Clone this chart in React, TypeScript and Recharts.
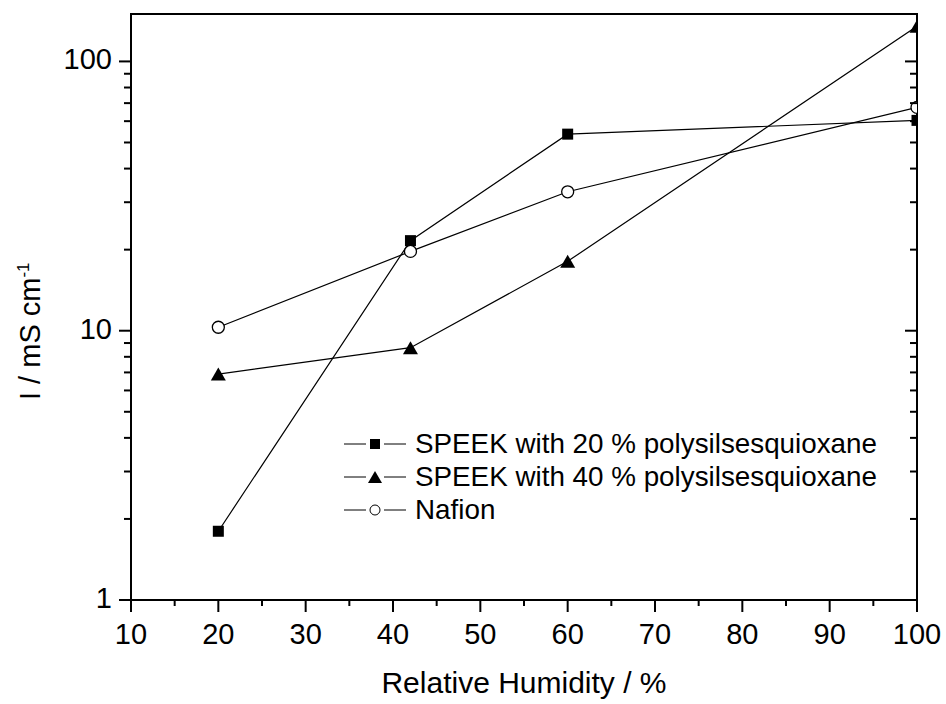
import React from 'react';
import { LineChart, Line, XAxis, YAxis, Legend, Label } from 'recharts';

// Values
const humidity = [20, 42, 60, 100];
const speek20 = [1.8, 21.6, 53.7, 60.4];
const speek40 = [6.9, 8.65, 18.1, 135];
const nafion = [10.3, 19.7, 32.8, 67.5];

const xTicks = [10, 15, 20, 25, 30, 35, 40, 45, 50, 55, 60, 65, 70, 75, 80, 85, 90, 95, 100];
const yTicks = [1, 2, 3, 4, 5, 6, 7, 8, 9, 10, 20, 30, 40, 50, 60, 70, 80, 90, 100];

const seriesNames = [
  'SPEEK with 20 % polysilsesquioxane',
  'SPEEK with 40 % polysilsesquioxane',
  'Nafion',
];

const FONT = '"Liberation Sans", Arial, sans-serif';

const chartData = humidity.map((rh, i) => ({
  rh,
  speek20: speek20[i],
  speek40: speek40[i],
  nafion: nafion[i],
}));

const isMajorY = (v: number) => Math.abs(Math.log10(v) - Math.round(Math.log10(v))) < 1e-9;

// tick renderers (draw tick line + label ourselves so minor ticks work)
const BottomTick = (props: any) => {
  const { x, y, payload } = props;
  const major = payload.value % 10 === 0;
  return (
    <g>
      <line x1={x} y1={y} x2={x} y2={y + (major ? 12 : 6)} stroke="#000" strokeWidth={2} />
      {major && (
        <text x={x} y={y + 44} textAnchor="middle" fontSize={29} fill="#000" fontFamily={FONT}>
          {payload.value}
        </text>
      )}
    </g>
  );
};

const TopTick = (props: any) => {
  const { x, y, payload } = props;
  const major = payload.value % 10 === 0;
  return <line x1={x} y1={y} x2={x} y2={y + (major ? 12 : 6)} stroke="#000" strokeWidth={2} />;
};

const LeftTick = (props: any) => {
  const { x, y, payload } = props;
  const major = isMajorY(payload.value);
  return (
    <g>
      <line x1={x} y1={y} x2={x - (major ? 12 : 7)} y2={y} stroke="#000" strokeWidth={2} />
      {major && (
        <text x={x - 19} y={y + 8} textAnchor="end" fontSize={29} fill="#000" fontFamily={FONT}>
          {payload.value}
        </text>
      )}
    </g>
  );
};

const RightTick = (props: any) => {
  const { x, y, payload } = props;
  const major = isMajorY(payload.value);
  return <line x1={x} y1={y} x2={x - (major ? 12 : 7)} y2={y} stroke="#000" strokeWidth={2} />;
};

// markers
const SquareDot = (p: any) => (
  <rect key={`sq${p.index}`} x={p.cx - 5.5} y={p.cy - 5.5} width={11} height={11} fill="#000" />
);
const TriangleDot = (p: any) => (
  <path
    key={`tr${p.index}`}
    d={`M${p.cx},${p.cy - 6.5} L${p.cx + 7.5},${p.cy + 6.5} L${p.cx - 7.5},${p.cy + 6.5} Z`}
    fill="#000"
  />
);
const CircleDot = (p: any) => (
  <circle key={`ci${p.index}`} cx={p.cx} cy={p.cy} r={6} fill="#fff" stroke="#000" strokeWidth={1.3} />
);

const YTitle = (props: any) => {
  const vb = props.viewBox;
  const tx = vb.x + 40;
  const ty = vb.y + vb.height / 2 + 93;
  return (
    <text transform={`translate(${tx}, ${ty}) rotate(-90)`} fontSize={29} fill="#000" fontFamily={FONT}>
      I / mS cm
      <tspan fontSize={17} dy={-11}>
        -1
      </tspan>
    </text>
  );
};

const LegendIcon = ({ kind }: { kind: number }) => (
  <svg width={62} height={20} style={{ display: 'block' }}>
    <line x1={0} y1={10} x2={22} y2={10} stroke="#000" strokeWidth={1} />
    <line x1={40} y1={10} x2={62} y2={10} stroke="#000" strokeWidth={1} />
    {kind === 0 && <rect x={26} y={5} width={10} height={10} fill="#000" />}
    {kind === 1 && <path d="M31,4 L38,16 L24,16 Z" fill="#000" />}
    {kind === 2 && <circle cx={31} cy={10} r={5} fill="#fff" stroke="#000" strokeWidth={1} />}
  </svg>
);

const LegendBox = () => (
  <div style={{ fontFamily: FONT, fontSize: 27.8, color: '#000' }}>
    {seriesNames.map((name, i) => (
      <div key={name} style={{ display: 'flex', alignItems: 'center', height: 33 }}>
        <LegendIcon kind={i} />
        <span style={{ marginLeft: 9, whiteSpace: 'nowrap', lineHeight: '33px' }}>{name}</span>
      </div>
    ))}
  </div>
);

const App: React.FC = () => {
  return (
    <div style={{ position: 'absolute', left: 0, top: 0, width: 946, height: 704, background: '#fff' }}>
      <LineChart
        width={946}
        height={704}
        data={chartData}
        margin={{ top: 13, right: 28, bottom: 0, left: 0 }}
        style={{ fontFamily: FONT }}
      >
        <XAxis
          dataKey="rh"
          type="number"
          domain={[10, 100]}
          ticks={xTicks}
          interval={0}
          allowDataOverflow
          height={104}
          tickSize={0}
          tickMargin={0}
          tickLine={false}
          tick={BottomTick}
          axisLine={{ stroke: '#000', strokeWidth: 2, strokeLinecap: 'square' }}
        >
          <Label
            value="Relative Humidity / %"
            position="insideBottom"
            offset={11}
            fontSize={30}
            fill="#000"
            fontFamily={FONT}
          />
        </XAxis>
        <XAxis
          xAxisId="top"
          orientation="top"
          type="number"
          domain={[10, 100]}
          ticks={xTicks}
          interval={0}
          allowDataOverflow
          height={1}
          tickSize={0}
          tickMargin={0}
          tickLine={false}
          tick={TopTick}
          axisLine={{ stroke: '#000', strokeWidth: 2, strokeLinecap: 'square' }}
        />
        <YAxis
          type="number"
          scale="log"
          domain={[1, 150]}
          ticks={yTicks}
          interval={0}
          allowDataOverflow
          width={131}
          tickSize={0}
          tickMargin={0}
          tickLine={false}
          tick={LeftTick}
          axisLine={{ stroke: '#000', strokeWidth: 2, strokeLinecap: 'square' }}
        >
          <Label content={YTitle} />
        </YAxis>
        <YAxis
          yAxisId="right"
          orientation="right"
          type="number"
          scale="log"
          domain={[1, 150]}
          ticks={yTicks}
          interval={0}
          allowDataOverflow
          width={1}
          tickSize={0}
          tickMargin={0}
          tickLine={false}
          tick={RightTick}
          axisLine={{ stroke: '#000', strokeWidth: 2, strokeLinecap: 'square' }}
        />
        <Legend
          layout="vertical"
          align="center"
          verticalAlign="middle"
          content={LegendBox}
          wrapperStyle={{ left: 344, top: 427, width: 560 }}
        />
        <Line
          dataKey="speek20"
          name={seriesNames[0]}
          stroke="#000"
          strokeWidth={1.2}
          dot={SquareDot}
          activeDot={false}
          isAnimationActive={false}
        />
        <Line
          dataKey="speek40"
          name={seriesNames[1]}
          stroke="#000"
          strokeWidth={1.2}
          dot={TriangleDot}
          activeDot={false}
          isAnimationActive={false}
        />
        <Line
          dataKey="nafion"
          name={seriesNames[2]}
          stroke="#000"
          strokeWidth={1.2}
          dot={CircleDot}
          activeDot={false}
          isAnimationActive={false}
        />
      </LineChart>
    </div>
  );
};

export default App;
